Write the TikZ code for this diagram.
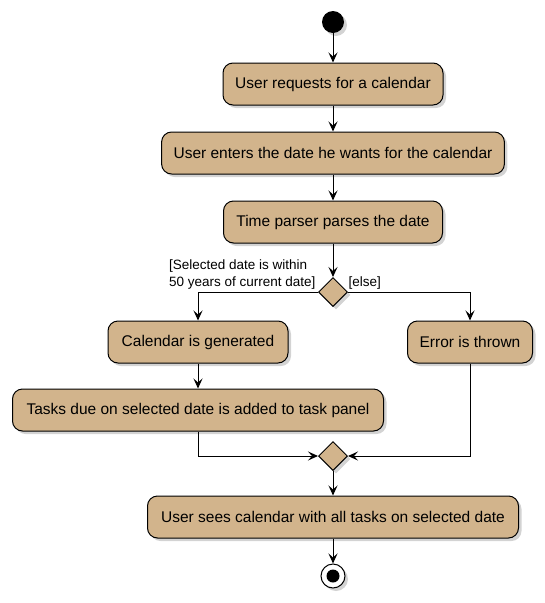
\documentclass[tikz,border=0pt]{standalone}
\usepackage{fontspec}
\setmainfont{Liberation Sans}
\usepackage{tikz}
\usetikzlibrary{positioning,arrows.meta,shapes.geometric,shadows}
\usepackage{xcolor}
\definecolor{tan}{HTML}{D2B48C}

\tikzset{
  action/.style={draw, line width=1pt, fill=tan, rounded corners=10pt, minimum height=42pt,
    inner xsep=12pt, font=\fontsize{15.5}{18}\selectfont,
    drop shadow={shadow xshift=3pt, shadow yshift=-3pt, opacity=0.35}},
  branch/.style={draw, line width=1pt, fill=tan, diamond, minimum size=29pt, inner sep=0pt,
    drop shadow={shadow xshift=3pt, shadow yshift=-3pt, opacity=0.35}},
  flow/.style={line width=1pt, -{Stealth[length=10pt, width=9pt, inset=4pt]}},
  guard/.style={font=\fontsize{13.5}{17}\selectfont, align=left}
}

\begin{document}
\begin{tikzpicture}[x=1pt, y=-1pt]

  \useasboundingbox (0,0) rectangle (545,603);

  % Start
  \node[circle, fill, minimum size=22pt, inner sep=0pt,
    drop shadow={shadow xshift=3pt, shadow yshift=-3pt, opacity=0.35}] (start) at (333,22) {};

  % Actions
  \node[action, minimum width=220pt] (request) at (333,84) {User requests for a calendar};
  \node[action, minimum width=340pt] (enter) at (333,153) {User enters the date he wants for the calendar};
  \node[action, minimum width=219pt] (parse) at (333,222) {Time parser parses the date};

  % Decision
  \node[branch] (check) at (333,292) {};
  \node[guard, anchor=south east] (within) at (319,293) {[Selected date is within\\50 years of current date]};
  \node[guard, anchor=south west] (other) at (345,293) {[else]};

  \node[action, minimum width=180pt] (generate) at (198,342) {Calendar is generated};
  \node[action, minimum width=371pt] (tasks) at (198,410) {Tasks due on selected date is added to task panel};
  \node[action, minimum width=125pt] (error) at (470,342) {Error is thrown};

  % Merge
  \node[branch] (merge) at (333,456) {};

  \node[action, minimum width=371pt] (sees) at (333,517) {User sees calendar with all tasks on selected date};

  % End
  \node[circle, draw, line width=1pt, fill=white, minimum size=24pt, inner sep=0pt,
    drop shadow={shadow xshift=3pt, shadow yshift=-3pt, opacity=0.35}] (stop) at (333,576) {};
  \node[circle, fill, minimum size=13pt, inner sep=0pt] (stopdot) at (stop) {};

  % Flows
  \draw[flow] (start) -- (request);
  \draw[flow] (request) -- (enter);
  \draw[flow] (enter) -- (parse);
  \draw[flow] (parse) -- (check);
  \draw[flow] (check.west) -| (generate.north);
  \draw[flow] (check.east) -| (error.north);
  \draw[flow] (generate) -- (tasks);
  \draw[flow] (tasks.south) |- (merge.west);
  \draw[flow] (error.south) |- (merge.east);
  \draw[flow] (merge) -- (sees);
  \draw[flow] (sees) -- (stop);

\end{tikzpicture}
\end{document}
